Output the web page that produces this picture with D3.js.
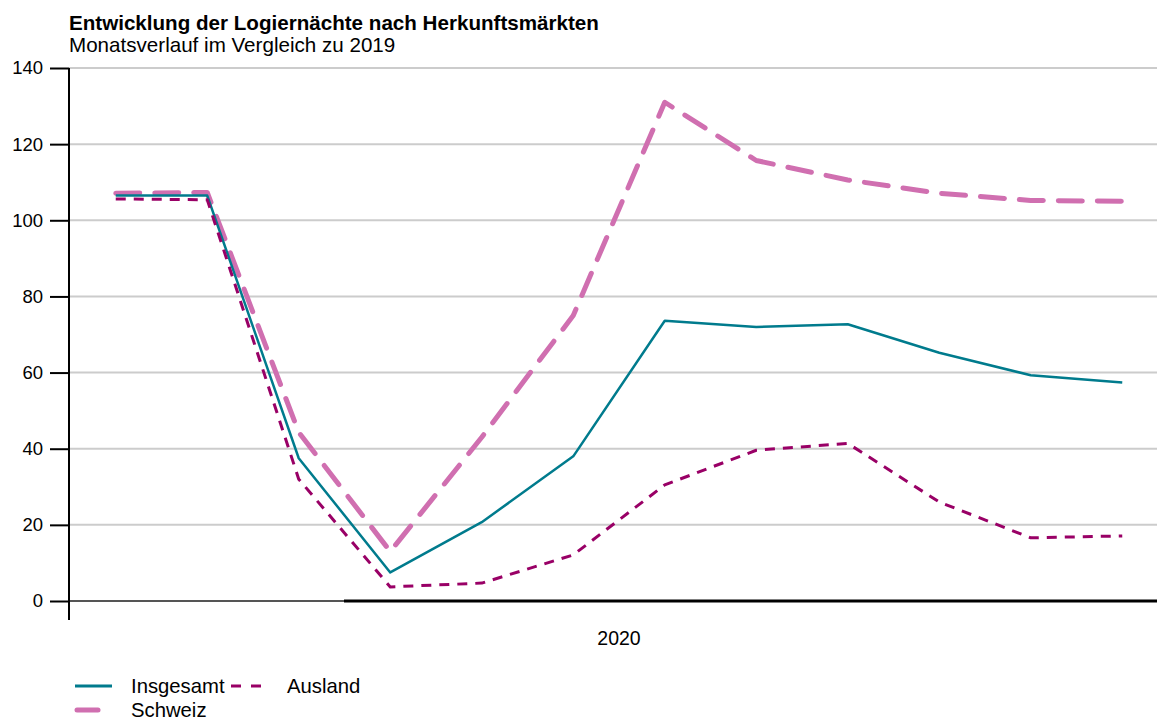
<!DOCTYPE html>
<html>
<head>
<meta charset="utf-8">
<script src="https://cdn.jsdelivr.net/npm/d3@7"></script>
<style>
  body { margin: 0; background: #fff; }
  text { font-family: "Liberation Sans", Arial, sans-serif; fill: #000; }
</style>
</head>
<body>
<svg id="chart" width="1157" height="719"></svg>
<script>
const months = ["Jan","Feb","Mär","Apr","Mai","Jun","Jul","Aug","Sep","Okt","Nov","Dez"];
const insgesamt = [106.5, 106.5, 37.5, 7.5, 20.7, 38.0, 73.6, 72.0, 72.7, 65.2, 59.3, 57.4];
const ausland   = [105.6, 105.4, 32.0, 3.7, 4.7, 12.1, 30.5, 39.6, 41.4, 26.0, 16.6, 17.1];
const schweiz   = [107.1, 107.3, 44.3, 13.0, 43.0, 75.0, 131.0, 115.7, 110.6, 107.1, 105.2, 105.0];
const yTicks = [0, 20, 40, 60, 80, 100, 120, 140];
const yearLabel = "2020";
const title = "Entwicklung der Logiernächte nach Herkunftsmärkten";
const subtitle = "Monatsverlauf im Vergleich zu 2019";

const series = [
  { name: "Insgesamt", values: insgesamt, color: "#007b8d", width: 2.5, dash: null, cap: "butt" },
  { name: "Ausland", values: ausland, color: "#990066", width: 3, dash: "10,8", cap: "butt" },
  { name: "Schweiz", values: schweiz, color: "#d06fb0", width: 5, dash: "24,15", cap: "round" }
];

const svg = d3.select("#chart");
const mLeft = 69, mRight = 1157, mTop = 68, mBottom = 601;

const x = d3.scalePoint().domain(months).range([70, 1168]).padding(0.5);
const y = d3.scaleLinear().domain([0, 140]).range([mBottom, mTop]);

// title
svg.append("text").attr("x", mLeft).attr("y", 30)
  .style("font-size", "20.6px").style("font-weight", "bold").text(title);
svg.append("text").attr("x", mLeft).attr("y", 52)
  .style("font-size", "20.6px").text(subtitle);

// gridlines
svg.append("g").selectAll("line").data(yTicks.filter(d => d > 0)).join("line")
  .attr("x1", mLeft).attr("x2", mRight)
  .attr("y1", d => y(d)).attr("y2", d => y(d))
  .attr("stroke", "#cccccc").attr("stroke-width", 2);

// zero line
svg.append("line").attr("x1", mLeft).attr("x2", mRight)
  .attr("y1", y(0)).attr("y2", y(0)).attr("stroke", "#555").attr("stroke-width", 2);
svg.append("line").attr("x1", 344).attr("x2", mRight)
  .attr("y1", y(0)).attr("y2", y(0)).attr("stroke", "#000").attr("stroke-width", 3);

// y axis
const yAxis = d3.axisLeft(y).tickValues(yTicks).tickSize(19).tickPadding(7);
const gy = svg.append("g").attr("transform", `translate(${mLeft},0)`).call(yAxis);
gy.select(".domain").remove();
gy.selectAll(".tick line").attr("stroke", "#000").attr("stroke-width", 2);
gy.selectAll(".tick text").style("font-size", "18.5px").style("font-family", "Liberation Sans, Arial, sans-serif").attr("fill", "#000");
svg.append("line").attr("x1", mLeft).attr("x2", mLeft).attr("y1", mTop).attr("y2", 620)
  .attr("stroke", "#000").attr("stroke-width", 2);

// x label
svg.append("text").attr("x", (x.range()[0] + x.range()[1]) / 2).attr("y", 645)
  .attr("text-anchor", "middle").style("font-size", "19.5px").text(yearLabel);

// lines
const line = d3.line().x((d, i) => x(months[i])).y(d => y(d));
svg.append("g").selectAll("path").data([series[2], series[0], series[1]]).join("path")
  .attr("d", d => line(d.values))
  .attr("fill", "none")
  .attr("stroke", d => d.color)
  .attr("stroke-width", d => d.width)
  .attr("stroke-dasharray", d => d.dash)
  .attr("stroke-linecap", d => d.cap)
  .attr("stroke-linejoin", "round");

// legend
const legend = svg.append("g");
const legendItems = [
  { s: series[0], lx1: 75, lx2: 112, ly: 686, tx: 131 },
  { s: series[1], lx1: 231, lx2: 261, ly: 686, tx: 287 },
  { s: series[2], lx1: 77, lx2: 98, ly: 710, tx: 131 }
];
legendItems.forEach(it => {
  legend.append("line").attr("x1", it.lx1).attr("x2", it.lx2).attr("y1", it.ly).attr("y2", it.ly)
    .attr("stroke", it.s.color).attr("stroke-width", it.s.width === 5 ? 5 : 3)
    .attr("stroke-dasharray", it.s.name === "Ausland" ? "10,10" : null)
    .attr("stroke-linecap", it.s.cap);
  legend.append("text").attr("x", it.tx).attr("y", it.ly + 7)
    .style("font-size", "20.3px").text(it.s.name);
});
</script>
</body>
</html>
